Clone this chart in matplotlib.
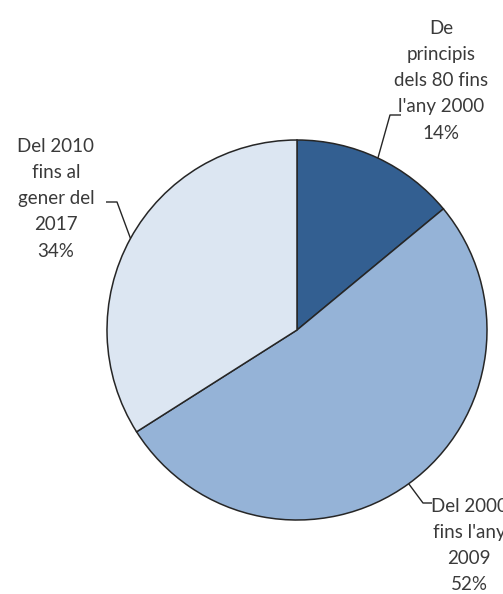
import numpy as np
import matplotlib.pyplot as plt

# data
categories = ["De\nprincipis\ndels 80 fins\nl'any 2000",
              "Del 2000\nfins l'any\n2009",
              "Del 2010\nfins al\ngener del\n2017"]
values = [14, 52, 34]
colors = ['#335f91', '#95b3d7', '#dce6f2']

W, H = 503, 594
CX, CY, R = 297, 330, 190          # pie centre / radius in pixels (y down)
TXT = '#3a3a3a'

# label layout (pixels, y down): text centre x, first line y, elbow, end of leader
label_pos = [(441, 28), (469, 506), (56, 146)]
elbows = [((390, 115), (401, 115)),
          ((423, 503), (432, 503)),
          ((117, 202), (106, 202))]
line_step = 26.3

plt.rcParams['font.family'] = ['Lato', 'DejaVu Sans']

fig = plt.figure(figsize=(W / 100, H / 100), dpi=100, facecolor='white')
ax = fig.add_axes([0, 0, 1, 1])


def fy(y):
    return H - y


wedges, _ = ax.pie(values, colors=colors, startangle=90, counterclock=False,
                   center=(CX, fy(CY)), radius=R,
                   wedgeprops=dict(edgecolor='#262626', linewidth=1.1))

# pie() resets the limits, so set them afterwards
ax.set_xlim(0, W)
ax.set_ylim(0, H)
ax.set_aspect('equal')
ax.axis('off')

for w, lab, v, (tx, ty), (elb, end) in zip(wedges, categories, values, label_pos, elbows):
    mid = np.deg2rad((w.theta1 + w.theta2) / 2)
    p0 = (CX + R * np.cos(mid), CY - R * np.sin(mid))
    xs = [p0[0], elb[0], end[0]]
    ys = [fy(p0[1]), fy(elb[1]), fy(end[1])]
    ax.plot(xs, ys, color='#262626', lw=1.0, solid_capstyle='butt', clip_on=False)
    lines = lab.split('\n') + [f"{v}%"]
    for i, ln in enumerate(lines):
        ax.text(tx, fy(ty + i * line_step), ln, ha='center', va='center',
                fontsize=13.5, color=TXT, clip_on=False)

fig.savefig('out.png', dpi=100, facecolor='white')
